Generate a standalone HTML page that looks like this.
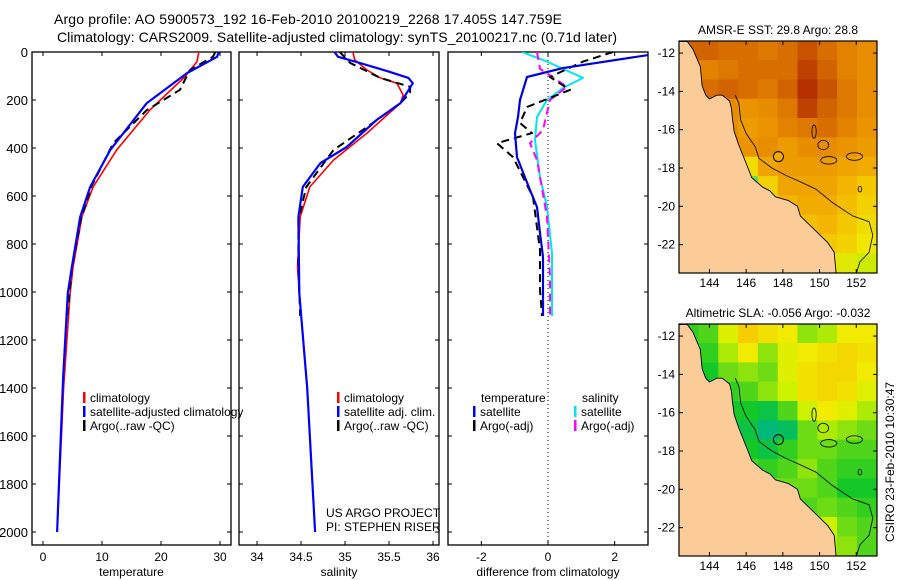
<!DOCTYPE html>
<html><head><meta charset="utf-8"><style>
body{margin:0;background:#fff;}
svg{display:block;font-family:"Liberation Sans",sans-serif;}
</style></head><body>
<svg id="fig" width="900" height="580" viewBox="0 0 900 580" xmlns="http://www.w3.org/2000/svg">
<rect width="900" height="580" fill="#fff"/>
<text x="54" y="24" font-size="14" textLength="508">Argo profile: AO 5900573_192 16-Feb-2010 20100219_2268 17.405S 147.759E</text>
<text x="57" y="42" font-size="14" textLength="560">Climatology: CARS2009. Satellite-adjusted climatology: synTS_20100217.nc (0.71d later)</text>
<g id="plots"></g>
<text transform="translate(894,462) rotate(-90)" font-size="12" text-anchor="middle">CSIRO 23-Feb-2010 10:30:47</text>
</svg>
<script>
// ---------- profile data ----------
const depthTicks=[0,200,400,600,800,1000,1200,1400,1600,1800,2000];
const tempTicks=[0,10,20,30];
const salTicks=[34,34.5,35,35.5,36];
const diffTicks=[-2,0,2];
const tempClimDepth=[0,40,104,242,408,562,687,895,1005,1400,2000];
const tempClim=[26.4,26.1,24.0,18.1,12.5,8.5,6.6,5.1,4.6,3.5,2.4];
const tempSatDepth=[0,20,88,213,408,562,687,895,1005,1367,2000];
const tempSat=[29.8,29.5,24.4,17.6,11.4,8.0,6.3,4.9,4.2,3.4,2.4];
const tempArgoDepth=[0,20,75,158,242,380,560,700,900,1100];
const tempArgo=[29.2,28.8,24.9,23.2,17.6,11.9,8.2,6.4,4.9,4.1];
const salClimDepth=[0,33,75,108,130,179,213,338,450,562,687,895,1005,1400,2000];
const salClim=[35.09,35.11,35.25,35.40,35.59,35.66,35.63,35.25,34.87,34.60,34.49,34.46,34.48,34.57,34.66];
const salSatDepth=[0,20,46,83,108,130,213,283,396,463,562,687,1005,1400,2000];
const salSat=[34.88,34.92,35.17,35.51,35.72,35.77,35.63,35.36,35.02,34.72,34.52,34.47,34.48,34.57,34.66];
const salArgoDepth=[0,46,108,145,170,213,313,408,562,700,900,1100];
const salArgo=[34.94,35.06,35.40,35.74,35.74,35.63,35.25,34.87,34.56,34.47,34.47,34.49];
const dTSatDepth=[0,67,104,200,271,338,438,575,646,754,854,1100];
const dTSat=[3.6,0.45,-0.63,-0.84,-0.9,-0.99,-0.93,-0.54,-0.33,-0.24,-0.15,-0.15];
const dSSatDepth=[0,40,108,150,200,271,367,521,646,838,1100];
const dSSat=[-0.78,-0.03,1.05,0.45,-0.03,-0.33,-0.39,-0.24,-0.03,0.12,0.12];
const dTArgoDepth=[0,40,104,158,229,296,338,380,438,604,825,992,1100];
const dTArgo=[1.95,1.05,0.06,0.66,-0.63,-0.84,-0.48,-1.53,-1.05,-0.45,-0.24,-0.24,-0.18];
const dSArgoDepth=[0,70,145,200,325,380,450,687,938,1100];
const dSArgo=[-0.33,-0.24,0.57,0.06,-0.15,-0.54,-0.33,-0.03,0.06,0.06];
// ---------- map data (10 cols x 12 rows, lat 11.9..23 by 1 deg) ----------
const sstGrid=[
[29.6,29.6,29.5,29.5,29.4,29.5,29.7,29.5,29.3,29.2],
[29.5,29.3,29.4,29.5,29.5,29.5,29.8,29.6,29.3,29.2],
[29.5,29.5,29.6,29.5,29.4,29.6,29.9,29.7,29.4,29.2],
[29.4,29.4,29.2,29.1,29.2,29.4,29.8,29.6,29.4,29.2],
[29.3,29.3,29.2,29.0,29.1,29.3,29.4,29.5,29.3,29.1],
[29.2,29.2,29.3,29.1,29.2,29.0,29.2,29.2,29.1,29.0],
[28.8,28.8,28.6,28.3,28.9,29.0,29.0,29.0,28.9,28.8],
[28.5,28.5,28.0,27.6,28.4,28.9,28.9,28.9,28.7,28.5],
[28.4,28.4,28.3,28.2,28.3,28.7,28.8,28.8,28.6,28.4],
[28.3,28.3,28.3,28.2,28.2,28.4,28.6,28.7,28.5,28.3],
[28.2,28.2,28.2,28.2,28.2,28.4,28.5,28.5,28.4,28.2],
[28.0,28.0,28.0,28.0,28.0,28.1,28.1,28.2,28.1,28.0]];
const slaGrid=[
[-0.05,-0.04,0.01,0.05,0.03,0.02,-0.02,-0.01,0.02,0.02],
[-0.06,-0.05,-0.01,0.02,-0.02,0.01,0.02,0.03,0.04,0.03],
[-0.06,-0.06,-0.03,-0.02,-0.03,0.01,0.03,0.04,0.04,0.02],
[-0.06,-0.06,-0.05,-0.04,-0.02,0.0,0.03,0.04,0.03,0.01],
[-0.06,-0.06,-0.06,-0.06,-0.07,-0.04,0.0,0.02,0.01,-0.01],
[-0.06,-0.06,-0.06,-0.07,-0.09,-0.08,-0.03,-0.01,-0.02,-0.03],
[-0.06,-0.06,-0.06,-0.06,-0.07,-0.05,-0.03,-0.03,-0.04,-0.04],
[-0.06,-0.06,-0.06,-0.04,-0.05,-0.04,-0.02,-0.04,-0.05,-0.05],
[-0.06,-0.06,-0.06,-0.04,-0.02,-0.03,-0.03,-0.04,-0.06,-0.06],
[-0.05,-0.05,-0.05,-0.05,-0.04,-0.03,-0.04,-0.03,-0.04,-0.05],
[-0.03,-0.03,-0.03,-0.03,-0.02,-0.02,0.0,0.0,-0.03,-0.04],
[-0.02,-0.02,-0.02,-0.02,-0.01,0.0,0.01,-0.01,-0.02,-0.04]];
const lonTicks=[144,146,148,150,152];
const latTicks=[12,14,16,18,20,22];
const argoLon=147.759, argoLat=17.405;
// coastline (lon, lat) and shelf isobath
const coastLon=[142.8,143.1,143.5,143.6,143.8,144.0,144.4,144.7,145.1,145.2,145.25,145.35,145.6,146.1,146.3,146.9,147.3,147.6,148.3,148.8,148.95,149.7,150.45,150.8,150.9];
const coastLat=[11.4,11.8,12.7,13.7,14.2,14.4,14.2,14.2,14.5,14.9,15.4,16.1,16.8,18.0,18.5,19.0,19.2,19.5,19.7,20.0,20.5,21.2,21.9,22.4,23.5];
const shelfLon=[145.4,145.6,145.7,146.0,146.5,146.7,147.4,148.2,148.9,149.8,150.7,151.8,152.7,152.9,152.7,152.2,152.0];
const shelfLat=[14.2,14.6,15.5,16.2,16.9,17.5,18.0,18.4,18.7,19.1,19.8,20.5,20.8,21.5,22.4,22.9,23.5];

const NS='http://www.w3.org/2000/svg';
const root=document.getElementById('plots');
function el(tag,attrs,parent){const e=document.createElementNS(NS,tag);for(const k in attrs)e.setAttribute(k,attrs[k]);(parent||root).appendChild(e);return e;}
const top0=52, bot0=545;
const yD=d=>top0+d*0.24;
function panel(name,x0,x1,xmin,xmax,ticks,label,showY){
  const g=el('g',{});
  
  
  const sx=v=>x0+(v-xmin)/(xmax-xmin)*(x1-x0);
  const f=el('rect',{x:x0,y:top0,width:x1-x0,height:bot0-top0,fill:'none',stroke:'#000','stroke-width':1.3},g);
  
  
  depthTicks.forEach(d=>{
    el('line',{x1:x0,x2:x0+4,y1:yD(d),y2:yD(d),stroke:'#000'},g);
    el('line',{x1:x1-4,x2:x1,y1:yD(d),y2:yD(d),stroke:'#000'},g);
    if(showY){const t=el('text',{x:x0-4,y:yD(d)+5,'font-size':13,'text-anchor':'end'},g);t.textContent=d;
      
      }
  });
  ticks.forEach(v=>{
    el('line',{x1:sx(v),x2:sx(v),y1:top0,y2:top0+4,stroke:'#000'},g);
    el('line',{x1:sx(v),x2:sx(v),y1:bot0-4,y2:bot0,stroke:'#000'},g);
    const t=el('text',{x:sx(v),y:561,'font-size':12,'text-anchor':'middle'},g);t.textContent=v;
    
    
  });
  const t=el('text',{x:(x0+x1)/2,y:576,'font-size':12,'text-anchor':'middle'},g);t.textContent=label;
  
  
  const cid='clip'+name;
  const cp=el('clipPath',{id:cid},g);el('rect',{x:x0,y:top0,width:x1-x0,height:bot0-top0},cp);
  return {g,sx,cid};
}
function series(p,vals,depths,color,w,dash,name){
  const pts=vals.map((v,i)=>p.sx(v).toFixed(1)+','+yD(depths[i]).toFixed(1)).join(' ');
  const a={points:pts,fill:'none',stroke:color,'stroke-width':w,'clip-path':'url(#'+p.cid+')','stroke-linejoin':'round'};
  if(dash)a['stroke-dasharray']=dash;
  const l=el('polyline',a,p.g);
  
  
}
function legend(g,x,y,color,text,name){
  el('rect',{x:x,y:y-10,width:2.5,height:11,fill:color},g);
  const t=el('text',{x:x+7,y:y,'font-size':12},g);t.textContent=text;
  
  
}
// temperature
const pT=panel('temperature-panel',32,231,-1.86,31.86,tempTicks,'temperature',true);
series(pT,tempClim,tempClimDepth,'#ff0000',1.6,null,'temp-climatology-line');
series(pT,tempArgo,tempArgoDepth,'#000',2,'8,5','temp-argo-line');
series(pT,tempSat,tempSatDepth,'#0000ff',2.2,null,'temp-satellite-line');
legend(pT.g,83,402,'#ff0000','climatology','legend-climatology');
legend(pT.g,83,416,'#0000ff','satellite-adjusted climatology','legend-satellite');
legend(pT.g,83,430,'#000','Argo(..raw -QC)','legend-argo');
// salinity
const pS=panel('salinity-panel',239,439,33.795,36.068,salTicks,'salinity',false);
series(pS,salClim,salClimDepth,'#ff0000',1.6,null,'sal-climatology-line');
series(pS,salArgo,salArgoDepth,'#000',2,'8,5','sal-argo-line');
series(pS,salSat,salSatDepth,'#0000ff',2.2,null,'sal-satellite-line');
legend(pS.g,337,402,'#ff0000','climatology','legend-climatology');
legend(pS.g,337,416,'#0000ff','satellite adj. clim.','legend-satellite');
legend(pS.g,337,430,'#000','Argo(..raw -QC)','legend-argo');
[['US ARGO PROJECT',517],['PI: STEPHEN RISER',531]].forEach(([s,y])=>{const t=el('text',{x:326,y:y,'font-size':12},pS.g);t.textContent=s;
  
  });
// difference
const pD=panel('difference-panel',448,648,-3.0,3.0,diffTicks,'difference from climatology',false);
el('line',{x1:pD.sx(0),x2:pD.sx(0),y1:top0,y2:bot0,stroke:'#000','stroke-dasharray':'1,3'},pD.g);
series(pD,dSSat,dSSatDepth,'#00e5ee',2,null,'sal-diff-satellite-line');
series(pD,dSArgo,dSArgoDepth,'#ff00ff',2,'8,5','sal-diff-argo-line');
series(pD,dTArgo,dTArgoDepth,'#000',2,'8,5','temp-diff-argo-line');
series(pD,dTSat,dTSatDepth,'#0000dd',2.2,null,'temp-diff-satellite-line');
{const t=el('text',{x:481,y:402,'font-size':12},pD.g);t.textContent='temperature';}
{const t=el('text',{x:582,y:402,'font-size':12},pD.g);t.textContent='salinity';}
legend(pD.g,473,416,'#0000ff','satellite','legend-temp-satellite');
legend(pD.g,473,430,'#000','Argo(-adj)','legend-temp-argo');
legend(pD.g,574,416,'#00e5ee','satellite','legend-sal-satellite');
legend(pD.g,574,430,'#ff00ff','Argo(-adj)','legend-sal-argo');

// ---------- maps ----------
function lerpC(stops,v){
  if(v<=stops[0][0])return stops[0][1];
  for(let i=1;i<stops.length;i++){if(v<=stops[i][0]){const[a,ca]=stops[i-1],[b,cb]=stops[i];const t=(v-a)/(b-a);
    return 'rgb('+ca.map((c,k)=>Math.round(c+(cb[k]-c)*t)).join(',')+')';}}
  const c=stops[stops.length-1][1];return 'rgb('+c.join(',')+')';
}
function lerpRGB(stops,v){const s=lerpC(stops,v);return typeof s==='string'?s:'rgb('+s.join(',')+')';}
const sstStops=[[27.4,[40,200,160]],[27.8,[170,240,0]],[28.2,[240,230,0]],[28.7,[245,180,0]],[29.2,[232,140,0]],[29.6,[210,100,0]],[30.0,[170,30,0]]];
const slaStops=[[-0.09,[0,185,120]],[-0.06,[20,200,40]],[-0.03,[110,220,20]],[0.0,[205,242,0]],[0.02,[240,235,0]],[0.05,[245,205,0]]];
function drawMap(name,y0,title,grid,stops){
  const x0=679,x1=877,y1=y0+232;
  const lon0=142.34,lon1=153.13,lat0=11.37,lat1=23.48;
  const px=l=>x0+(l-lon0)/(lon1-lon0)*(x1-x0);
  const py=l=>y0+(l-lat0)/(lat1-lat0)*(y1-y0);
  const g=el('g',{});
  
  
  const cid='clip'+name;const cp=el('clipPath',{id:cid},g);el('rect',{x:x0,y:y0,width:x1-x0,height:y1-y0},cp);
  const inner=el('g',{'clip-path':'url(#'+cid+')'},g);
  const nr=grid.length,nc=grid[0].length;
  const cw=(lon1-lon0)/nc, ch=(lat1-lat0)/nr;
  grid.forEach((row,r)=>row.forEach((v,c)=>{
    const cell=el('rect',{x:px(lon0+c*cw)-0.3,y:py(lat0+r*ch)-0.3,width:px(lon0+cw)-x0+0.6,height:py(lat0+ch)-y0+0.6,fill:lerpRGB(stops,v)},inner);
    
    
  }));
  let d='M'+x0+','+py(coastLat[0]);
  coastLon.forEach((l,i)=>{d+=' L'+px(l).toFixed(1)+','+py(coastLat[i]).toFixed(1);});
  d+=' L'+x0+','+(y1+2)+' Z';
  const land=el('path',{d:d,fill:'#fbcb98',stroke:'#000','stroke-width':0.9},inner);
  
  
  const sh=el('polyline',{points:shelfLon.map((l,i)=>px(l).toFixed(1)+','+py(shelfLat[i]).toFixed(1)).join(' '),fill:'none',stroke:'#000','stroke-width':0.8},inner);
  
  
  [[149.7,16.1,0.12,0.35],[150.2,16.8,0.3,0.25],[150.5,17.6,0.45,0.2],[151.9,17.4,0.45,0.2],[152.2,19.1,0.1,0.15]].forEach(([lo,la,rx,ry])=>{
    const e=el('ellipse',{cx:px(lo),cy:py(la),rx:rx*18,ry:ry*19,fill:'none',stroke:'#000','stroke-width':0.8},inner);
    
    
  });
  const ac=el('circle',{cx:px(argoLon),cy:py(argoLat),r:5,fill:name==='sst-map'?lerpRGB(stops,28.8):'none',stroke:'#000','stroke-width':1},inner);
  
  
  el('rect',{x:x0,y:y0,width:x1-x0,height:y1-y0,fill:'none',stroke:'#000','stroke-width':1.2},g);
  lonTicks.forEach(l=>{
    el('line',{x1:px(l),x2:px(l),y1:y0,y2:y0+4,stroke:'#000'},g);
    el('line',{x1:px(l),x2:px(l),y1:y1-4,y2:y1,stroke:'#000'},g);
    const t=el('text',{x:px(l),y:y1+14,'font-size':12,'text-anchor':'middle'},g);t.textContent=l;
    
    
  });
  latTicks.forEach(l=>{
    el('line',{x1:x0,x2:x0+4,y1:py(l),y2:py(l),stroke:'#000'},g);
    el('line',{x1:x1-4,x2:x1,y1:py(l),y2:py(l),stroke:'#000'},g);
    const t=el('text',{x:x0-4,y:py(l)+4,'font-size':12,'text-anchor':'end'},g);t.textContent='-'+l;
    
    
  });
  const tt=el('text',{x:(x0+x1)/2,y:y0-7,'font-size':12,'text-anchor':'middle'},g);tt.textContent=title;
  
  
}
drawMap('sst-map',41,'AMSR-E SST: 29.8 Argo: 28.8',sstGrid,sstStops);
drawMap('sla-map',324,'Altimetric SLA: -0.056 Argo: -0.032',slaGrid,slaStops);
</script>
</body></html>
